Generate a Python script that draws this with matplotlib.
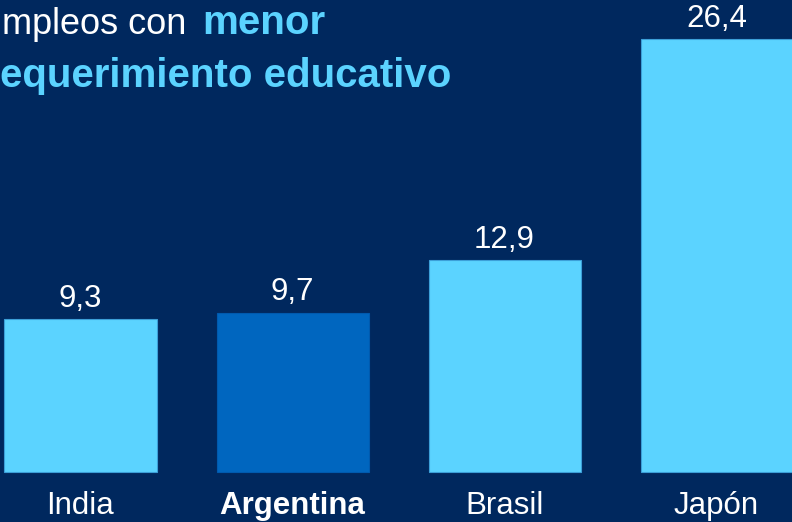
import matplotlib
matplotlib.use("Agg")
import matplotlib.pyplot as plt

paises = ["India", "Argentina", "Brasil", "Japón"]
valores = [9.3, 9.7, 12.9, 26.4]
etiquetas = ["9,3", "9,7", "12,9", "26,4"]

fondo = "#00285E"
celeste = "#5BD3FF"
azul = "#0066BF"
colores = [celeste, azul, celeste, celeste]
bordes = ["#3C9FD8", "#005AAE", "#3C9FD8", "#3C9FD8"]

plt.rcParams['font.family'] = ['Liberation Sans', 'DejaVu Sans']

fig = plt.figure(figsize=(7.92, 5.22), dpi=100)
fig.patch.set_facecolor(fondo)
ax = fig.add_axes([0, 0, 1, 1])
ax.set_facecolor(fondo)

x = list(range(len(paises)))
ax.bar(x, valores, width=0.717, color=colores, edgecolor=bordes, linewidth=0.8)
ax.set_xlim(-0.3797, 3.356)
ax.set_ylim(-3.05, 28.78)
ax.axis("off")

for i, v in enumerate(valores):
    ax.text(i, v + 0.76, etiquetas[i], ha="center", va="baseline",
            color="white", fontsize=22.5)
    ax.text(i, -2.56, paises[i], ha="center", va="baseline", color="white",
            fontsize=22.5, fontweight="bold" if paises[i] == "Argentina" else "normal")

# titulo (cortado a la izquierda como en la lamina original)
fig.text(2 / 792, 1 - 34 / 522, "mpleos con", color="white",
         fontsize=26, va="baseline", ha="left")
fig.text(202 / 792, 1 - 34 / 522, "menor", color=celeste, fontsize=29,
         fontweight="bold", va="baseline", ha="left")
fig.text(0, 1 - 87 / 522, "equerimiento educativo", color=celeste,
         fontsize=29, fontweight="bold", va="baseline", ha="left")

fig.savefig("out.png", dpi=100, facecolor=fondo)
